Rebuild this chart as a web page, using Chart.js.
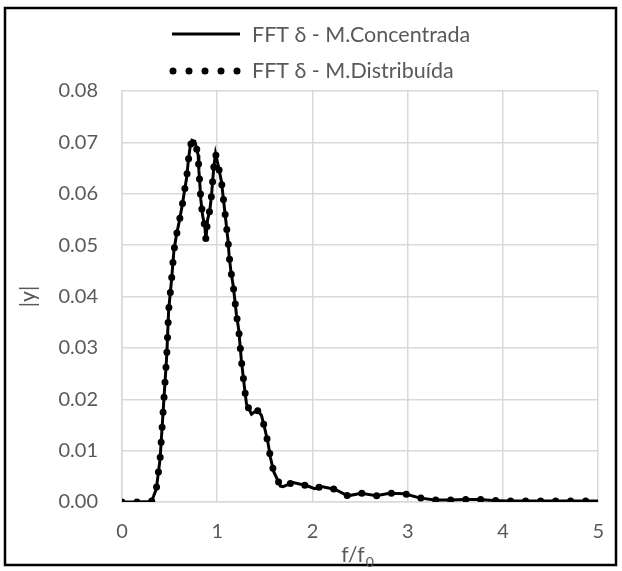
<!DOCTYPE html>
<html>
<head>
<meta charset="utf-8">
<script src="https://cdn.jsdelivr.net/npm/chart.js@4/dist/chart.umd.min.js"></script>
<style>
  html, body { margin: 0; padding: 0; background: #ffffff; }
  #wrap { width: 622px; height: 571px; }
</style>
</head>
<body>
<div id="wrap"><canvas id="c" width="622" height="571"></canvas></div>
<script>
// Normalised frequency f/f0
const freqRatio = [
  0, 0.15, 0.31, 0.36, 0.40, 0.43, 0.47, 0.49, 0.52, 0.545,
  0.57, 0.60, 0.63, 0.655, 0.68, 0.695, 0.715, 0.735, 0.765, 0.80,
  0.807, 0.818, 0.828, 0.846, 0.87, 0.881, 0.898, 0.922, 0.94, 0.951,
  0.964, 0.982, 1.009, 1.045, 1.062, 1.08, 1.097, 1.114, 1.125, 1.143,
  1.167, 1.185, 1.202, 1.226, 1.24, 1.253, 1.271, 1.289, 1.307, 1.36,
  1.418, 1.464, 1.499, 1.534, 1.559, 1.593, 1.664, 1.691, 1.796, 1.936,
  2.023, 2.093, 2.233, 2.372, 2.513, 2.67, 2.809, 2.966, 3.124, 3.281,
  3.45, 3.6, 3.75, 3.9, 4.05, 4.2, 4.4, 4.6, 4.8, 5.0
];

// |y| spectrum, lumped-mass model
const magConcentrada = [
  0, 0, 0.0001, 0.0025, 0.0084, 0.0171, 0.0286, 0.0374, 0.0432, 0.0489,
  0.0518, 0.0545, 0.0575, 0.0604, 0.0633, 0.0662, 0.0691, 0.0704, 0.0702, 0.0675,
  0.0646, 0.0617, 0.0588, 0.0558, 0.0536, 0.0510, 0.0549, 0.0568, 0.0597, 0.0623,
  0.0652, 0.0678, 0.0656, 0.0623, 0.0594, 0.0565, 0.0536, 0.0508, 0.0479, 0.0450,
  0.0422, 0.0393, 0.0364, 0.0335, 0.0305, 0.0276, 0.0247, 0.0218, 0.0191, 0.0171,
  0.0179, 0.0169, 0.0143, 0.0114, 0.0086, 0.0059, 0.0031, 0.0030, 0.0038, 0.0032,
  0.0026, 0.0030, 0.0025, 0.0012, 0.0017, 0.0012, 0.0017, 0.0016, 0.0008, 0.0004,
  0.0004, 0.0005, 0.0005, 0.0003, 0.0002, 0.0002, 0.0002, 0.0002, 0.0002, 0.0002
];

// |y| spectrum, distributed-mass model
const magDistribuida = [
  0, 0, 0.0001, 0.0025, 0.0084, 0.0171, 0.0286, 0.0374, 0.0432, 0.0489,
  0.0518, 0.0545, 0.0575, 0.0604, 0.0633, 0.0662, 0.0691, 0.0704, 0.0702, 0.0675,
  0.0646, 0.0617, 0.0588, 0.0558, 0.0536, 0.0510, 0.0549, 0.0568, 0.0597, 0.0623,
  0.0652, 0.0678, 0.0656, 0.0623, 0.0594, 0.0565, 0.0536, 0.0508, 0.0479, 0.0450,
  0.0422, 0.0393, 0.0364, 0.0335, 0.0305, 0.0276, 0.0247, 0.0218, 0.0191, 0.0171,
  0.0179, 0.0169, 0.0143, 0.0114, 0.0086, 0.0059, 0.0031, 0.0030, 0.0038, 0.0032,
  0.0026, 0.0030, 0.0025, 0.0012, 0.0017, 0.0012, 0.0017, 0.0016, 0.0008, 0.0004,
  0.0004, 0.0005, 0.0005, 0.0003, 0.0002, 0.0002, 0.0002, 0.0002, 0.0002, 0.0002
];

const xTickValues = [0, 1, 2, 3, 4, 5];
const yTickValues = [0, 0.01, 0.02, 0.03, 0.04, 0.05, 0.06, 0.07, 0.08];

const seriesNames = ['FFT δ - M.Concentrada', 'FFT δ - M.Distribuída'];
const xTitle = ['f/f', '0'];
const yTitle = '|y|';

const FONT = 'Lato, "Open Sans", sans-serif';
const TEXT = '#595959';
const GRID = '#d9d9d9';

const toPoints = (xs, ys) => xs.map((x, i) => ({ x: x, y: ys[i] }));

// Outer frame, stacked legend and axis titles
const decorations = {
  id: 'decorations',
  afterDraw(chart) {
    const ctx = chart.ctx;
    const area = chart.chartArea;
    ctx.save();

    // frame
    ctx.strokeStyle = '#000000';
    ctx.lineWidth = 2.5;
    ctx.strokeRect(5, 8, 611, 557);

    // legend: solid line entry
    ctx.lineCap = 'butt';
    ctx.setLineDash([]);
    ctx.lineWidth = 3;
    ctx.beginPath();
    ctx.moveTo(172, 34);
    ctx.lineTo(240, 34);
    ctx.stroke();

    // legend: round-dot entry
    ctx.lineCap = 'round';
    ctx.lineWidth = 7;
    ctx.setLineDash([0, 16]);
    ctx.beginPath();
    ctx.moveTo(173, 71);
    ctx.lineTo(238, 71);
    ctx.stroke();
    ctx.setLineDash([]);

    ctx.fillStyle = TEXT;
    ctx.font = '21.5px ' + FONT;
    ctx.textAlign = 'left';
    ctx.textBaseline = 'middle';
    ctx.fillText(seriesNames[0], 252, 35);
    ctx.fillText(seriesNames[1], 252, 71);

    // y-axis title
    ctx.save();
    ctx.translate(28, (area.top + area.bottom) / 2);
    ctx.rotate(-Math.PI / 2);
    ctx.textAlign = 'center';
    ctx.textBaseline = 'middle';
    ctx.font = '21px ' + FONT;
    ctx.fillText(yTitle, 0, 0);
    ctx.restore();

    // x-axis title with subscript
    ctx.font = '21px ' + FONT;
    const mainW = ctx.measureText(xTitle[0]).width;
    ctx.font = '14px ' + FONT;
    const subW = ctx.measureText(xTitle[1]).width;
    const cx = (area.left + area.right) / 2;
    const startX = cx - (mainW + subW) / 2 - 3;
    ctx.textAlign = 'left';
    ctx.textBaseline = 'alphabetic';
    ctx.font = '21px ' + FONT;
    ctx.fillText(xTitle[0], startX, 562);
    ctx.font = '14px ' + FONT;
    ctx.fillText(xTitle[1], startX + mainW + 1, 567);

    ctx.restore();
  }
};

new Chart(document.getElementById('c'), {
  type: 'line',
  data: {
    datasets: [
      {
        label: seriesNames[0],
        data: toPoints(freqRatio, magConcentrada),
        borderColor: '#000000',
        borderWidth: 3,
        pointRadius: 0,
        tension: 0,
        fill: false
      },
      {
        label: seriesNames[1],
        data: toPoints(freqRatio, magDistribuida),
        borderColor: '#000000',
        borderWidth: 7,
        borderDash: [0, 15],
        borderCapStyle: 'round',
        pointRadius: 0,
        tension: 0,
        fill: false
      }
    ]
  },
  options: {
    responsive: false,
    animation: false,
    devicePixelRatio: 1,
    layout: { padding: { top: 91, right: 23, bottom: 0, left: 0 } },
    plugins: {
      legend: { display: false },
      tooltip: { enabled: false },
      title: { display: false }
    },
    scales: {
      x: {
        type: 'linear',
        min: 0,
        max: 5,
        afterBuildTicks: (s) => { s.ticks = xTickValues.map(v => ({ value: v })); },
        afterFit: (s) => { s.height = 69; },
        grid: { color: GRID, lineWidth: 1.5, drawTicks: false },
        border: { color: GRID, width: 1.5 },
        ticks: {
          color: TEXT,
          font: { family: FONT, size: 20 },
          padding: 18,
          callback: (v) => String(v)
        }
      },
      y: {
        type: 'linear',
        min: 0,
        max: 0.08,
        afterBuildTicks: (s) => { s.ticks = yTickValues.map(v => ({ value: v })); },
        afterFit: (s) => { s.width = 122; },
        grid: { color: GRID, lineWidth: 1.5, drawTicks: false },
        border: { color: GRID, width: 1.5 },
        ticks: {
          color: TEXT,
          font: { family: FONT, size: 20 },
          padding: 24,
          callback: (v) => Number(v).toFixed(2)
        }
      }
    }
  },
  plugins: [decorations]
});
</script>
</body>
</html>
